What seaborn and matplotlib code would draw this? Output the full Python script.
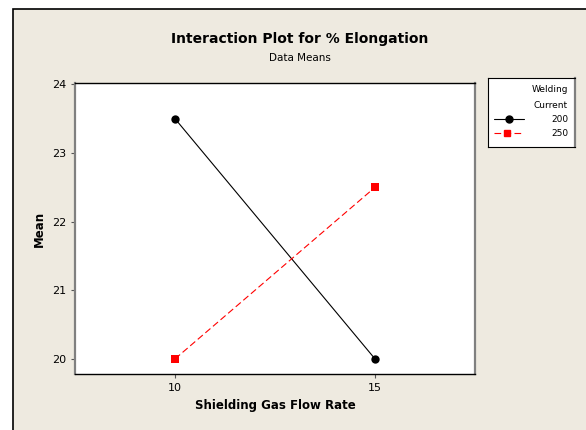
import pandas as pd
import seaborn as sns
import matplotlib.pyplot as plt
from matplotlib.patches import Rectangle

# data means
flow_rate = [10, 15]
current_200 = [23.5, 20.0]
current_250 = [20.0, 22.5]

df = pd.DataFrame({
    'Shielding Gas Flow Rate': flow_rate * 2,
    'Mean': current_200 + current_250,
    'Current': ['200'] * 2 + ['250'] * 2,
})

sns.set_style('white')
plt.rcParams['font.family'] = ['DejaVu Sans']
plt.rcParams['text.color'] = 'black'
plt.rcParams['axes.labelcolor'] = 'black'
plt.rcParams['xtick.color'] = 'black'
plt.rcParams['ytick.color'] = 'black'

bg = '#EEEAE0'
fig = plt.figure(figsize=(5.86, 4.30), dpi=100, facecolor='white')
fig.patches.append(Rectangle((13 / 586, -0.01), 1.0, 1 - 9 / 430 + 0.01,
                             transform=fig.transFigure, facecolor=bg,
                             edgecolor='black', linewidth=1.2, zorder=-1))

ax = fig.add_axes([75 / 586, 1 - 374 / 430, 400 / 586, 291 / 430])

sns.lineplot(data=df, x='Shielding Gas Flow Rate', y='Mean', hue='Current',
             style='Current', palette={'200': 'black', '250': 'red'},
             markers={'200': 'o', '250': 's'},
             dashes={'200': '', '250': (6, 3)},
             markersize=6, linewidth=0.8, markeredgewidth=0, ax=ax, legend=False)

ax.set_xlim(7.5, 17.5)
ax.set_ylim(19.78, 24.02)
ax.set_xticks(flow_rate)
ax.set_yticks([20, 21, 22, 23, 24])
ax.tick_params(axis='both', labelsize=8, length=3, direction='out',
               left=True, bottom=True, color='#555555')
ax.set_xlabel('Shielding Gas Flow Rate', fontsize=8.5, fontweight='bold')
ax.set_ylabel('Mean', fontsize=8.5, fontweight='bold')
for s in ['left', 'right']:
    ax.spines[s].set_color('#808080')
    ax.spines[s].set_linewidth(1.6)
for s in ['top', 'bottom']:
    ax.spines[s].set_color('black')
    ax.spines[s].set_linewidth(1.0)

fig.text(300 / 586, 1 - 39 / 430, 'Interaction Plot for % Elongation',
         ha='center', va='center', fontsize=10, fontweight='bold')
fig.text(300 / 586, 1 - 58 / 430, 'Data Means', ha='center', va='center', fontsize=7.5)

# legend box
lax = fig.add_axes([488 / 586, 1 - 147 / 430, 87 / 586, 69 / 430])
lax.set_xlim(0, 87)
lax.set_ylim(69, 0)
lax.set_xticks([])
lax.set_yticks([])
lax.set_facecolor('white')
for s in lax.spines.values():
    s.set_color('black')
    s.set_linewidth(0.8)
lax.spines['right'].set_color('#808080')
lax.spines['right'].set_linewidth(1.6)
lax.text(80, 12, 'Welding', ha='right', va='center', fontsize=6.5)
lax.text(80, 27, 'Current', ha='right', va='center', fontsize=6.5)
lax.plot([6, 36], [41, 41], color='black', lw=0.8)
lax.plot([21], [41], marker='o', color='black', ms=5)
lax.text(80, 41, '200', ha='right', va='center', fontsize=6.5)
lax.plot([6, 33], [55, 55], color='red', lw=0.8, dashes=(6, 3))
lax.plot([19], [55], marker='s', color='red', ms=5)
lax.text(80, 55, '250', ha='right', va='center', fontsize=6.5)

fig.savefig('out.png', dpi=100, facecolor=fig.get_facecolor())
